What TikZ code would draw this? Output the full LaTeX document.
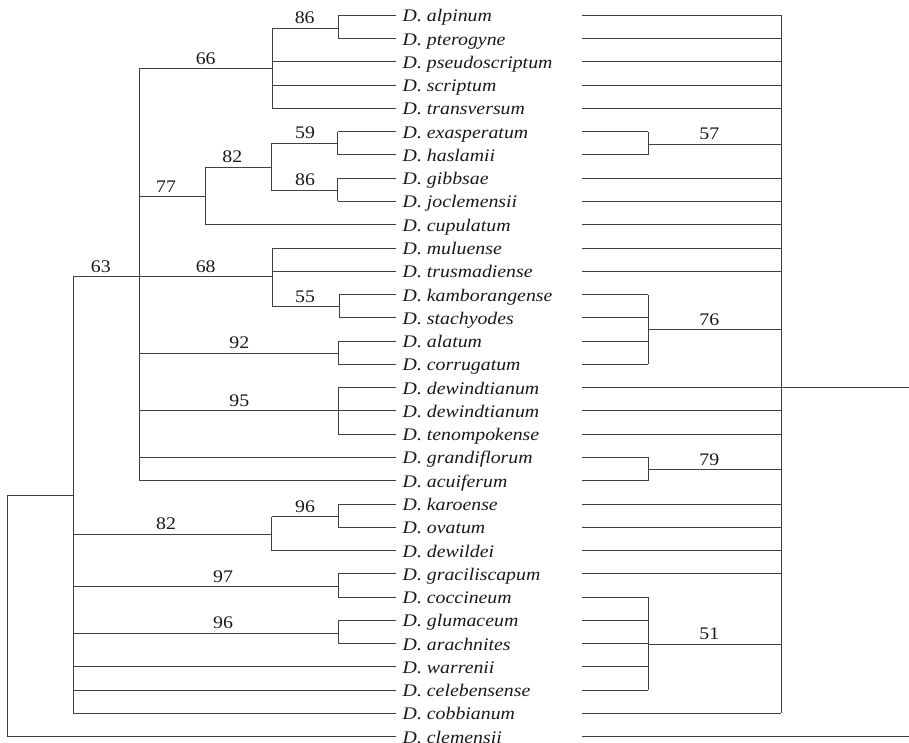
\documentclass[tikz,border=0pt]{standalone}
\usepackage{fontspec}
\setmainfont{Liberation Serif}
\newfontfamily\spfont[FakeStretch=1.12]{Liberation Serif}
\begin{document}
\begin{tikzpicture}[x=1pt,y=-1pt,
  br/.style={line width=0.9pt, draw=black!75},
  leaf/.style={anchor=west, inner xsep=6.5pt, inner ysep=0pt, text height=13pt, text depth=0pt,
    font=\spfont\itshape\fontsize{17.7}{20}\selectfont, text=black!90},
  bs/.style={anchor=base, inner sep=0pt, font=\spfont\fontsize{17.7}{20}\selectfont, text=black!90}]
\useasboundingbox (0,0) rectangle (909,743);
% leaves
\foreach \n/\name in {0/alpinum,1/pterogyne,2/pseudoscriptum,3/scriptum,4/transversum,
  5/exasperatum,6/haslamii,7/gibbsae,8/joclemensii,9/cupulatum,10/muluense,11/trusmadiense,
  12/kamborangense,13/stachyodes,14/alatum,15/corrugatum,16/dewindtianum,17/dewindtianum,
  18/tenompokense,19/grandiflorum,20/acuiferum,21/karoense,22/ovatum,23/dewildei,
  24/graciliscapum,25/coccineum,26/glumaceum,27/arachnites,28/warrenii,29/celebensense,
  30/cobbianum,31/clemensii}{
  \node[leaf] (t\n) at (396,{15.3+23.27*\n}) {D. \name};
  \coordinate (r\n) at (581.7,{15.3+23.27*\n});
}
% left internal nodes
\coordinate (rt) at (7.3,616);
\coordinate (n63) at (73.3,495.3);
\coordinate (nA) at (139.3,276.7);
\coordinate (n66) at (272,68.7);
\coordinate (n86a) at (338.3,28.3);
\coordinate (n77) at (205.7,196.7);
\coordinate (n82a) at (271.3,167);
\coordinate (n59) at (337.7,143.3);
\coordinate (n86b) at (337.7,190);
\coordinate (n68) at (272.7,276.7);
\coordinate (n55) at (339.3,306.7);
\coordinate (n92) at (338.3,353.3);
\coordinate (n95) at (338.3,410.7);
\coordinate (n82b) at (271.7,534);
\coordinate (n96a) at (338.3,516.7);
\coordinate (n97) at (338.3,586.7);
\coordinate (n96b) at (338.3,633.3);
% root
\draw[br] (n63) -- (rt |- n63) -- (rt |- t31.west) -- (t31.west);
% n63
\draw[br] (n63 |- nA) -- (n63 |- t30.west);
\foreach \c in {nA,n82b,n97,n96b} \draw[br] (n63 |- \c) -- (\c);
\foreach \t in {28,29,30} \draw[br] (n63 |- t\t.west) -- (t\t.west);
% nA
\draw[br] (nA |- n66) -- (nA |- t20.west);
\foreach \c in {n66,n77,n68,n92,n95} \draw[br] (nA |- \c) -- (\c);
\foreach \t in {19,20} \draw[br] (nA |- t\t.west) -- (t\t.west);
% n66
\draw[br] (n66 |- n86a) -- (n66 |- t4.west);
\draw[br] (n66 |- n86a) -- (n86a);
\foreach \t in {2,3,4} \draw[br] (n66 |- t\t.west) -- (t\t.west);
% n77, n82a
\draw[br] (n77 |- n82a) -- (n77 |- t9.west);
\draw[br] (n77 |- n82a) -- (n82a);
\draw[br] (n77 |- t9.west) -- (t9.west);
\draw[br] (n82a |- n59) -- (n82a |- n86b);
\draw[br] (n82a |- n59) -- (n59);
\draw[br] (n82a |- n86b) -- (n86b);
% n68
\draw[br] (n68 |- t10.west) -- (n68 |- n55);
\draw[br] (n68 |- n55) -- (n55);
\foreach \t in {10,11} \draw[br] (n68 |- t\t.west) -- (t\t.west);
% n82b
\draw[br] (n82b |- n96a) -- (n82b |- t23.west);
\draw[br] (n82b |- n96a) -- (n96a);
\draw[br] (n82b |- t23.west) -- (t23.west);
% terminal pairs/triples
\foreach \c/\a/\b in {n86a/0/1,n59/5/6,n86b/7/8,n55/12/13,n92/14/15,n95/16/18,n96a/21/22,n97/24/25,n96b/26/27}{
  \draw[br] (\c |- t\a.west) -- (\c |- t\b.west);
}
\foreach \c/\t in {n86a/0,n86a/1,n59/5,n59/6,n86b/7,n86b/8,n55/12,n55/13,n92/14,n92/15,
  n95/16,n95/17,n95/18,n96a/21,n96a/22,n97/24,n97/25,n96b/26,n96b/27}{
  \draw[br] (\c |- t\t.west) -- (t\t.west);
}
% right tree
\coordinate (R) at (781,386);
\coordinate (q57) at (648.3,144);
\coordinate (q76) at (648.3,329.9);
\coordinate (q79) at (648.3,469.5);
\coordinate (q51) at (648.3,644.3);
\coordinate (E16) at (909,{15.3+23.27*16});
\coordinate (E31) at (909,{15.3+23.27*31});
\draw[br] (R |- r0) -- (R |- r30);
\foreach \t in {0,1,2,3,4,7,8,9,10,11,17,18,21,22,23,24,30} \draw[br] (r\t) -- (R |- r\t);
\draw[br] (r16) -- (E16);
\draw[br] (r31) -- (E31);
\foreach \c in {q57,q76,q79,q51} \draw[br] (\c) -- (R |- \c);
\foreach \c/\a/\b in {q57/5/6,q76/12/15,q79/19/20,q51/25/29}{
  \draw[br] (\c |- r\a) -- (\c |- r\b);
}
\foreach \c/\t in {q57/5,q57/6,q76/12,q76/13,q76/14,q76/15,q79/19,q79/20,
  q51/25,q51/26,q51/27,q51/28,q51/29}{
  \draw[br] (r\t) -- (\c |- r\t);
}
% support labels
\node[bs] (l1) at (304.7,23.8) {86};
\node[bs] (l2) at (205.7,64.2) {66};
\node[bs] (l3) at (305,138.8) {59};
\node[bs] (l4) at (232.3,162.5) {82};
\node[bs] (l5) at (305,185.5) {86};
\node[bs] (l6) at (166,192.2) {77};
\node[bs] (l7) at (100.8,272.2) {63};
\node[bs] (l8) at (205.7,272.2) {68};
\node[bs] (l9) at (305,302.2) {55};
\node[bs] (l10) at (239.3,348.8) {92};
\node[bs] (l11) at (239.3,406.2) {95};
\node[bs] (l12) at (305,512.2) {96};
\node[bs] (l13) at (166,529.5) {82};
\node[bs] (l14) at (223,582.2) {97};
\node[bs] (l15) at (223,628.8) {96};
\node[bs] (l16) at (709.3,139.5) {57};
\node[bs] (l17) at (709.3,325.4) {76};
\node[bs] (l18) at (709.3,465) {79};
\node[bs] (l19) at (709.3,639.8) {51};
\end{tikzpicture}
\end{document}
